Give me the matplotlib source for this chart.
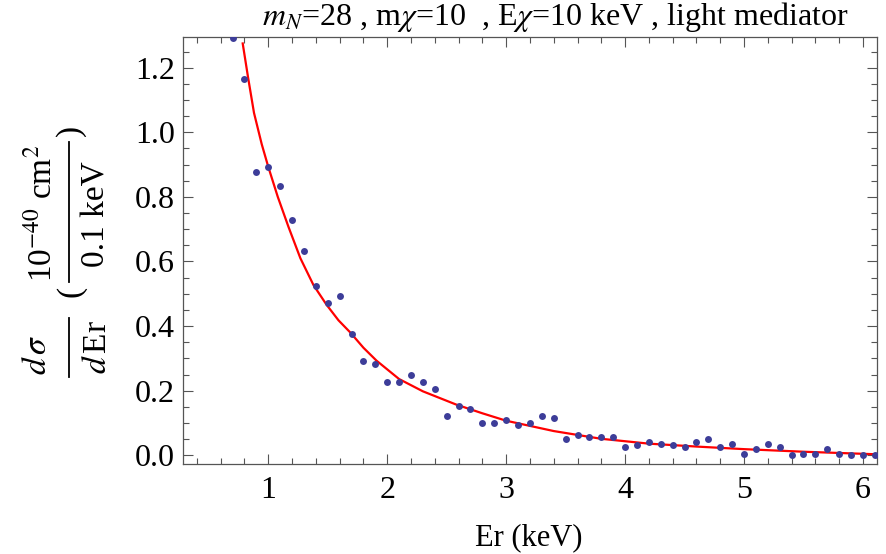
import matplotlib
matplotlib.use("Agg")
import matplotlib.pyplot as plt
from matplotlib.lines import Line2D
from matplotlib.ticker import MultipleLocator, FormatStrFormatter

plt.rcParams['font.family'] = ['Liberation Serif', 'DejaVu Serif']
plt.rcParams['mathtext.fontset'] = 'stix'

# simulated events per 0.1 keV bin (blue dots)
er = [0.7, 0.8, 0.9, 1.0, 1.1, 1.2, 1.3, 1.4, 1.5, 1.6, 1.7, 1.8, 1.9, 2.0,
      2.1, 2.2, 2.3, 2.4, 2.5, 2.6, 2.7, 2.8, 2.9, 3.0, 3.1, 3.2, 3.3, 3.4,
      3.5, 3.6, 3.7, 3.8, 3.9, 4.0, 4.1, 4.2, 4.3, 4.4, 4.5, 4.6, 4.7, 4.8,
      4.9, 5.0, 5.1, 5.2, 5.3, 5.4, 5.5, 5.6, 5.7, 5.8, 5.9, 6.0, 6.1]
sim = [1.291, 1.165, 0.876, 0.892, 0.833, 0.729, 0.632, 0.523, 0.470, 0.493,
       0.374, 0.293, 0.284, 0.226, 0.226, 0.249, 0.226, 0.204, 0.123, 0.152,
       0.144, 0.100, 0.100, 0.108, 0.093, 0.101, 0.123, 0.116, 0.049, 0.063,
       0.056, 0.056, 0.056, 0.026, 0.033, 0.041, 0.034, 0.033, 0.026, 0.041,
       0.049, 0.026, 0.034, 0.004, 0.019, 0.034, 0.026, 0.000, 0.004, 0.004,
       0.020, 0.004, 0.000, 0.000, 0.000]

# theory curve (red)
er_th = [0.785, 0.83, 0.88, 0.945, 1.0, 1.08, 1.17, 1.27, 1.38, 1.49, 1.59,
         1.69, 1.8, 1.91, 2.1, 2.3, 2.58, 2.8, 3.0, 3.4, 3.8, 4.2, 4.6, 5.0,
         5.5, 6.12]
th = [1.275, 1.17, 1.06, 0.963, 0.893, 0.80, 0.707, 0.61, 0.527, 0.466, 0.418,
      0.38, 0.333, 0.293, 0.236, 0.198, 0.157, 0.130, 0.107, 0.075, 0.051,
      0.036, 0.027, 0.019, 0.011, 0.003]

W, H = 886, 554
fig = plt.figure(figsize=(W / 100, H / 100), dpi=100)
ax = fig.add_axes([183 / W, 1 - 464 / H, (877 - 183) / W, (464 - 37) / H])

ax.plot(er_th, th, color='red', lw=1.6, zorder=2)
ax.plot(er, sim, 'o', color='#3d3d99', ms=5, mec='none', zorder=3)

ax.set_xlim(0.283, 6.118)
ax.set_ylim(-0.027, 1.295)

ax.xaxis.set_major_locator(MultipleLocator(1))
ax.xaxis.set_minor_locator(MultipleLocator(0.2))
ax.yaxis.set_major_locator(MultipleLocator(0.2))
ax.yaxis.set_minor_locator(MultipleLocator(0.05))
ax.yaxis.set_major_formatter(FormatStrFormatter('%.1f'))
ax.xaxis.set_major_formatter(FormatStrFormatter('%d'))

ax.tick_params(which='both', direction='in', top=True, right=True,
               color='#555555', width=0.8, labelsize=23)
ax.tick_params(which='major', length=7)
ax.tick_params(which='minor', length=4)
ax.tick_params(axis='x', pad=9)
ax.tick_params(axis='y', pad=6)
for s in ax.spines.values():
    s.set_color('#555555')
    s.set_linewidth(0.9)


def ftext(x, y, s, size=24):
    # text placed in pixel coords of the figure, rotated like the y label
    fig.text(x / W, 1 - y / H, s, rotation=90, ha='center', va='center',
             fontsize=size)


def fbar(x, y0, y1):
    fig.add_artist(Line2D([x / W, x / W], [1 - y0 / H, 1 - y1 / H],
                          transform=fig.transFigure, color='black', lw=1.3))


# y label: d sigma / d Er ( 10^-40 cm^2 / 0.1 keV )
ftext(38, 355, r'$d\,\sigma$')
fbar(69, 318, 377)
ftext(98, 347, r'$d\,$Er')
ftext(71, 291, '(')
ftext(42, 213, r'10$^{-40}$ cm$^{2}$')
fbar(69, 142, 282)
ftext(96, 214, r'0.1 keV')
ftext(71, 130, ')')

fig.text(555 / W, 1 - 17 / H,
         r'$m_N$=28 , m$\chi$=10  , E$\chi$=10 keV , light mediator',
         ha='center', va='center', fontsize=23)
fig.text(529 / W, 1 - 538 / H, 'Er (keV)', ha='center', va='center',
         fontsize=22)

fig.savefig('out.png', dpi=100)
